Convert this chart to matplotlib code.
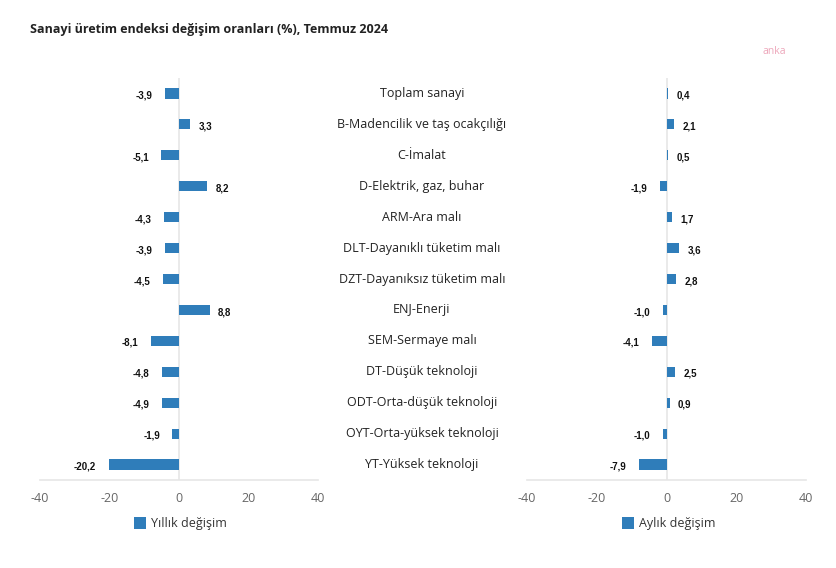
import matplotlib.pyplot as plt
from matplotlib.patches import Rectangle

# ── data ──────────────────────────────────────────────────────────────────
categories = ['Toplam sanayi', 'B-Madencilik ve taş ocakçılığı', 'C-İmalat',
              'D-Elektrik, gaz, buhar', 'ARM-Ara malı',
              'DLT-Dayanıklı tüketim malı', 'DZT-Dayanıksız tüketim malı',
              'ENJ-Enerji', 'SEM-Sermaye malı', 'DT-Düşük teknoloji',
              'ODT-Orta-düşük teknoloji', 'OYT-Orta-yüksek teknoloji',
              'YT-Yüksek teknoloji']
yillik = [-3.9, 3.3, -5.1, 8.2, -4.3, -3.9, -4.5, 8.8, -8.1, -4.8, -4.9, -1.9, -20.2]
aylik = [0.4, 2.1, 0.5, -1.9, 1.7, 3.6, 2.8, -1.0, -4.1, 2.5, 0.9, -1.0, -7.9]
xticks = [-40, -20, 0, 20, 40]

BLUE = '#2f7dba'
W, H = 836, 568

plt.rcParams['font.family'] = ['Open Sans', 'DejaVu Sans']

fig = plt.figure(figsize=(W / 100, H / 100), dpi=100)


def px_box(x0, x1, ytop, ybot):
    return [x0 / W, 1 - ybot / H, (x1 - x0) / W, (ybot - ytop) / H]


def panel(box, values):
    ax = fig.add_axes(box)
    n = len(values)
    ypos = list(range(n))
    ax.barh(ypos, values, height=0.33, color=BLUE, linewidth=0, zorder=3)
    ax.set_xlim(-40, 40)
    ax.set_ylim(n - 0.5, -0.5)
    ax.axvline(0, color='#e6e6e6', lw=1.2, zorder=1)
    for s in ['top', 'right', 'left']:
        ax.spines[s].set_visible(False)
    ax.spines['bottom'].set_color('#e6e6e6')
    ax.spines['bottom'].set_linewidth(1.2)
    ax.set_yticks([])
    ax.set_xticks(xticks)
    ax.set_xticklabels([str(t) for t in xticks], fontsize=9, color='#666666')
    ax.tick_params(axis='x', length=0, pad=9)
    for y, v in zip(ypos, values):
        lab = f'{v:.1f}'.replace('.', ',')
        if v < 0:
            off, ha = -9, 'right'
        else:
            off, ha = 6, 'left'
        ax.annotate(lab, (v, y), xytext=(off, -1.5), textcoords='offset points',
                    ha=ha, va='center', fontsize=7, fontweight='bold',
                    family=['Liberation Sans', 'DejaVu Sans'], color='#111111')
    return ax


ax1 = panel(px_box(40, 318, 78, 480), yillik)
ax2 = panel(px_box(527, 806, 78, 480), aylik)

# category labels in the middle column
for i, c in enumerate(categories):
    yc = 78 + (i + 0.5) * (402 / len(categories))
    fig.text(422 / W, 1 - yc / H, c, ha='center', va='center',
             fontsize=9, color='#222222')

# legends
for x_sq, label in [(134, 'Yıllık değişim'), (622, 'Aylık değişim')]:
    fig.patches.append(Rectangle((x_sq / W, 1 - 529 / H), 12 / W, 12 / H,
                                 transform=fig.transFigure, facecolor=BLUE,
                                 linewidth=0))
    fig.text((x_sq + 17) / W, 1 - 523 / H, label, ha='left', va='center',
             fontsize=9, color='#333333')

# title and watermark
fig.text(30 / W, 1 - 30 / H, 'Sanayi üretim endeksi değişim oranları (%), Temmuz 2024',
         ha='left', va='center', fontsize=9, fontweight='bold', color='#222222')
fig.text(774 / W, 1 - 51 / H, 'anka', ha='center', va='center',
         fontsize=7.5, color='#eda6ba')

fig.savefig('out.png', dpi=100)
